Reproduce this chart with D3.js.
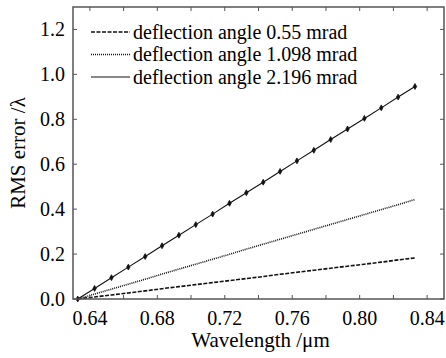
<!DOCTYPE html>
<html>
<head>
<meta charset="utf-8">
<script src="https://cdn.jsdelivr.net/npm/d3@7"></script>
<style>
  body { margin: 0; background: #fff; }
</style>
</head>
<body>
<div id="plot"></div>
<script>
// wavelength samples (um)
const wavelength = [0.6328, 0.6428, 0.6528, 0.6628, 0.6728, 0.6828, 0.6928, 0.7028, 0.7128, 0.7228,
  0.7328, 0.7428, 0.7528, 0.7628, 0.7728, 0.7828, 0.7928, 0.8028, 0.8128, 0.8228, 0.8328];

// RMS error for each deflection angle
const rms055 = [0, 0.009, 0.018, 0.027, 0.036, 0.046, 0.055, 0.064, 0.073, 0.082,
  0.091, 0.100, 0.110, 0.119, 0.128, 0.137, 0.146, 0.155, 0.164, 0.174, 0.183];
const rms1098 = [0, 0.022, 0.044, 0.066, 0.088, 0.111, 0.133, 0.155, 0.177, 0.199,
  0.222, 0.244, 0.266, 0.288, 0.310, 0.332, 0.354, 0.376, 0.398, 0.420, 0.443];
const rms2196 = [0, 0.047, 0.095, 0.142, 0.189, 0.237, 0.284, 0.331, 0.378, 0.426,
  0.473, 0.520, 0.568, 0.615, 0.662, 0.710, 0.757, 0.804, 0.851, 0.899, 0.946];

const legendLabels = ["deflection angle 0.55 mrad", "deflection angle 1.098 mrad", "deflection angle 2.196 mrad"];
const xTicks = [0.64, 0.66, 0.68, 0.70, 0.72, 0.74, 0.76, 0.78, 0.80, 0.82, 0.84];
const xTickLabels = [0.64, 0.68, 0.72, 0.76, 0.80, 0.84];
const yTicks = [0, 0.2, 0.4, 0.6, 0.8, 1.0, 1.2];

const serif = "'Liberation Serif', 'DejaVu Serif', serif";

const margin = { top: 7, right: 2, bottom: 59, left: 73 },
      W = 446, H = 358,
      width = W - margin.left - margin.right,
      height = H - margin.top - margin.bottom;

const svg = d3.select("div#plot").append("svg")
    .attr("width", W)
    .attr("height", H)
    .style("font-family", serif)
  .append("g")
    .attr("transform", `translate(${margin.left},${margin.top})`);

const x = d3.scaleLinear().domain([0.63, 0.85]).range([0, width]);
const y = d3.scaleLinear().domain([0, 1.3]).range([height, 0]);

const series = [
  { values: rms055, dash: "4,1.5", width: 1.6 },
  { values: rms1098, dash: "1,1", width: 1.6 },
  { values: rms2196, dash: null, width: 1.1 }
];

const line = d3.line()
  .x((d, i) => x(wavelength[i]))
  .y(d => y(d));

series.forEach(s => {
  svg.append("path")
    .datum(s.values)
    .attr("fill", "none")
    .attr("stroke", "#111")
    .attr("stroke-width", s.width)
    .attr("stroke-dasharray", s.dash)
    .attr("d", line);
});

// markers on the 2.196 mrad curve
svg.selectAll(".mark")
  .data(rms2196)
  .enter().append("path")
  .attr("class", "mark")
  .attr("transform", (d, i) => `translate(${x(wavelength[i])},${y(d)})`)
  .attr("d", d3.symbol(d3.symbolDiamond, 10))
  .attr("fill", "#111")
  .attr("stroke", "#111")
  .attr("stroke-width", 0.8);

// frame
svg.append("rect")
  .attr("width", width)
  .attr("height", height)
  .attr("fill", "none")
  .attr("stroke", "#555")
  .attr("stroke-width", 1.5);

// inward ticks
const tl = 4;
xTicks.forEach(t => {
  svg.append("line").attr("x1", x(t)).attr("x2", x(t)).attr("y1", height).attr("y2", height - tl);
  svg.append("line").attr("x1", x(t)).attr("x2", x(t)).attr("y1", 0).attr("y2", tl);
});
yTicks.forEach(t => {
  svg.append("line").attr("x1", 0).attr("x2", tl).attr("y1", y(t)).attr("y2", y(t));
  svg.append("line").attr("x1", width).attr("x2", width - tl).attr("y1", y(t)).attr("y2", y(t));
});
svg.selectAll("line").attr("stroke", "#555").attr("stroke-width", 1);

svg.selectAll(".xl")
  .data(xTickLabels)
  .enter().append("text")
  .attr("class", "xl")
  .attr("x", d => x(d))
  .attr("y", height + 26)
  .attr("text-anchor", "middle")
  .style("font-family", serif)
  .style("font-size", "20px")
  .text(d => d.toFixed(2));

svg.selectAll(".yl")
  .data(yTicks)
  .enter().append("text")
  .attr("class", "yl")
  .attr("x", -8)
  .attr("y", d => y(d))
  .attr("dy", "0.35em")
  .attr("text-anchor", "end")
  .style("font-family", serif)
  .style("font-size", "20px")
  .text(d => d.toFixed(1));

svg.append("text")
  .attr("x", width / 2 + 2)
  .attr("y", height + 48)
  .attr("text-anchor", "middle")
  .style("font-family", serif)
  .style("font-size", "21px")
  .text("Wavelength /\u03bcm");

svg.append("text")
  .attr("transform", "rotate(-90)")
  .attr("x", -height / 2)
  .attr("y", -margin.left + 25)
  .attr("text-anchor", "middle")
  .style("font-family", serif)
  .style("font-size", "21px")
  .text("RMS error /\u03bb");

// legend
const legend = svg.append("g").attr("transform", "translate(18,25)");
series.forEach((s, i) => {
  const g = legend.append("g").attr("transform", `translate(0,${i * 22.5})`);
  g.append("line")
    .attr("x1", 0).attr("x2", 39).attr("y1", 0).attr("y2", 0)
    .attr("stroke", "#111")
    .attr("stroke-width", s.width)
    .attr("stroke-dasharray", s.dash);
  g.append("text")
    .attr("x", 42)
    .attr("y", 0)
    .attr("dy", "0.33em")
    .style("font-family", serif)
    .style("font-size", "20px")
    .text(legendLabels[i]);
});
</script>
</body>
</html>
